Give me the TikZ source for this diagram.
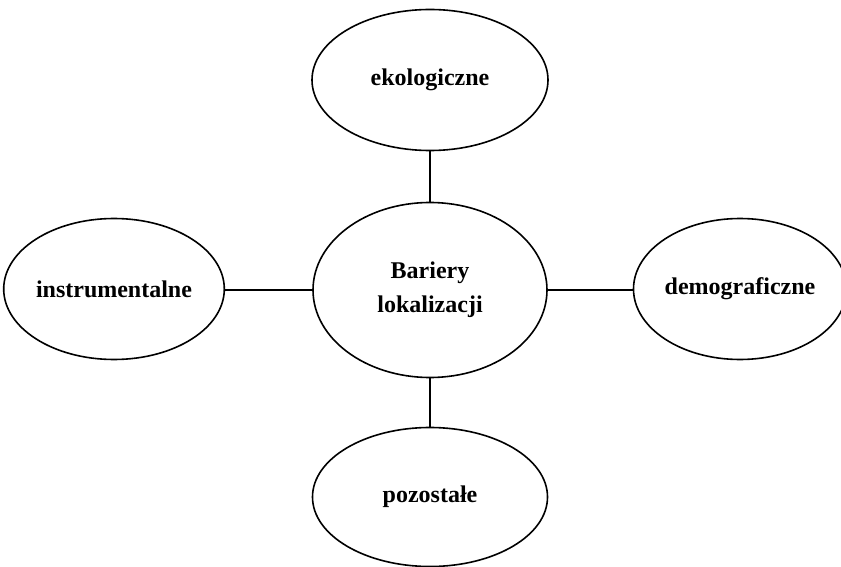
\documentclass[tikz,border=0pt]{standalone}
\usepackage{fontspec}
\setmainfont{Liberation Serif}
\usetikzlibrary{shapes.geometric}
\begin{document}
\begin{tikzpicture}[x=1pt,y=-1pt,
  oval/.style={draw=black, line width=1.6pt, ellipse, inner sep=0pt, font=\bfseries\fontsize{24}{34}\selectfont, align=center},
  link/.style={draw=black, line width=1.3pt}]
\useasboundingbox (0,0) rectangle (841,567);
\node[oval, minimum width=236pt, minimum height=141pt] (eko) at (430,80) {ekologiczne};
\node[oval, minimum width=234pt, minimum height=175pt] (bar) at (430,290) {Bariery\\lokalizacji};
\node[oval, minimum width=212pt, minimum height=141pt] (ins) at (114,289) {instrumentalne};
\node[oval, minimum width=206pt, minimum height=141pt] (dem) at (740,289) {demograficzne};
\node[oval, minimum width=235pt, minimum height=139pt] (poz) at (430,497) {pozostałe};
\draw[link] (eko.south) -- (bar.north);
\draw[link] (bar.south) -- (poz.north);
\draw[link] (bar.west) -- (bar.west -| ins.east);
\draw[link] (bar.east) -- (bar.east -| dem.west);
\end{tikzpicture}
\end{document}
